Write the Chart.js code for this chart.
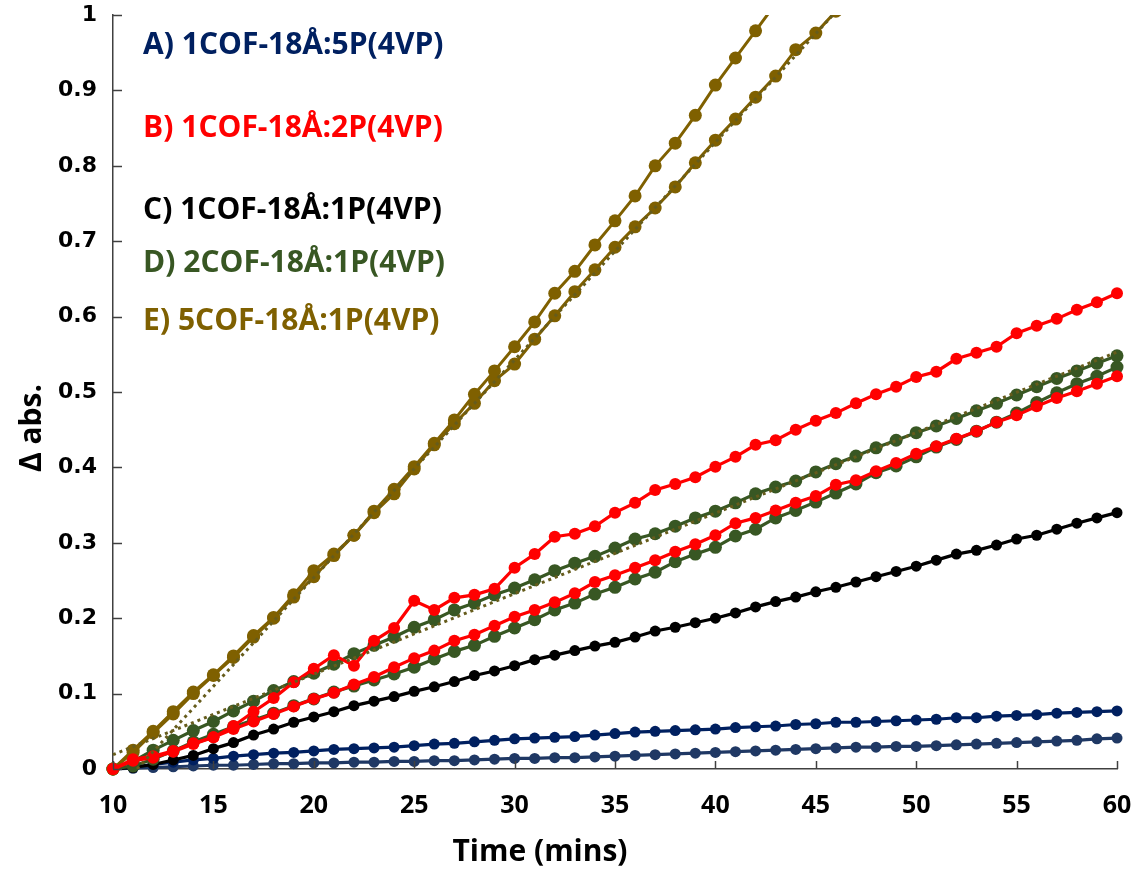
<!DOCTYPE html>
<html>
<head>
<meta charset="utf-8">
<title>Δ abs. vs time</title>
<script src="https://cdn.jsdelivr.net/npm/chart.js@4.4.1/dist/chart.umd.min.js"></script>
<style>
  html, body { margin: 0; padding: 0; background: #fff; }
  #wrap { width: 1140px; height: 875px; }
</style>
</head>
<body>
<div id="wrap"><canvas id="chart" width="1140" height="875"></canvas></div>
<script>
  // time axis (minutes), one reading per minute
  var minutes = [10, 11, 12, 13, 14, 15, 16, 17, 18, 19, 20, 21, 22, 23, 24, 25, 26, 27, 28, 29, 30,
    31, 32, 33, 34, 35, 36, 37, 38, 39, 40, 41, 42, 43, 44, 45, 46, 47, 48, 49, 50,
    51, 52, 53, 54, 55, 56, 57, 58, 59, 60];

  // A) 1COF-18Å:5P(4VP)
  var seriesA1 = [0, 0.003, 0.006, 0.009, 0.012, 0.014, 0.017, 0.019, 0.021, 0.022, 0.024, 0.026, 0.027, 0.028, 0.029, 0.031,
    0.033, 0.034, 0.036, 0.038, 0.040, 0.041, 0.042, 0.043, 0.045, 0.047, 0.049, 0.050, 0.051, 0.052, 0.053,
    0.055, 0.056, 0.057, 0.059, 0.060, 0.062, 0.062, 0.063, 0.064, 0.065, 0.066, 0.068, 0.068, 0.070, 0.071,
    0.072, 0.074, 0.075, 0.076, 0.077];
  var seriesA2 = [0, 0.001, 0.002, 0.003, 0.004, 0.005, 0.005, 0.006, 0.007, 0.007, 0.008, 0.008, 0.009, 0.009, 0.010, 0.010,
    0.011, 0.011, 0.012, 0.013, 0.014, 0.014, 0.015, 0.015, 0.016, 0.017, 0.018, 0.019, 0.020, 0.021, 0.022,
    0.023, 0.024, 0.025, 0.026, 0.027, 0.028, 0.029, 0.029, 0.030, 0.030, 0.031, 0.032, 0.033, 0.034, 0.035,
    0.036, 0.037, 0.038, 0.040, 0.041];

  // B) 1COF-18Å:2P(4VP)
  var seriesB1 = [0, 0.013, 0.017, 0.024, 0.034, 0.042, 0.057, 0.076, 0.094, 0.115, 0.133, 0.151, 0.137, 0.170, 0.187, 0.223,
    0.211, 0.227, 0.231, 0.239, 0.267, 0.285, 0.308, 0.312, 0.322, 0.340, 0.353, 0.370, 0.378, 0.387, 0.401,
    0.414, 0.430, 0.436, 0.450, 0.462, 0.472, 0.485, 0.497, 0.507, 0.520, 0.527, 0.544, 0.552, 0.560, 0.578,
    0.588, 0.597, 0.609, 0.619, 0.631];
  var seriesB2 = [0, 0.011, 0.015, 0.023, 0.033, 0.042, 0.053, 0.063, 0.073, 0.083, 0.093, 0.101, 0.112, 0.122, 0.135, 0.147,
    0.157, 0.170, 0.178, 0.190, 0.202, 0.211, 0.221, 0.233, 0.248, 0.257, 0.267, 0.277, 0.288, 0.298, 0.310,
    0.326, 0.333, 0.343, 0.353, 0.362, 0.377, 0.383, 0.395, 0.406, 0.418, 0.428, 0.438, 0.448, 0.460, 0.469,
    0.481, 0.492, 0.501, 0.511, 0.521];

  // C) 1COF-18Å:1P(4VP)
  var seriesC = [0, 0.002, 0.006, 0.012, 0.018, 0.027, 0.035, 0.045, 0.053, 0.062, 0.069, 0.076, 0.084, 0.090, 0.096, 0.103,
    0.109, 0.116, 0.124, 0.130, 0.137, 0.145, 0.151, 0.157, 0.163, 0.168, 0.175, 0.183, 0.188, 0.194, 0.200,
    0.207, 0.215, 0.222, 0.228, 0.235, 0.241, 0.248, 0.255, 0.262, 0.269, 0.277, 0.285, 0.290, 0.297, 0.305,
    0.310, 0.318, 0.326, 0.333, 0.340];

  // D) 2COF-18Å:1P(4VP)
  var seriesD1 = [0, 0.010, 0.025, 0.038, 0.051, 0.063, 0.077, 0.090, 0.104, 0.116, 0.127, 0.139, 0.153, 0.164, 0.175, 0.188,
    0.198, 0.211, 0.220, 0.231, 0.240, 0.251, 0.263, 0.273, 0.282, 0.293, 0.305, 0.312, 0.322, 0.333, 0.342,
    0.353, 0.365, 0.374, 0.382, 0.394, 0.405, 0.415, 0.426, 0.436, 0.446, 0.455, 0.465, 0.475, 0.485, 0.496,
    0.507, 0.518, 0.528, 0.538, 0.548];
  var seriesD2 = [0, 0.004, 0.013, 0.024, 0.036, 0.046, 0.056, 0.065, 0.074, 0.084, 0.093, 0.102, 0.110, 0.118, 0.126, 0.135,
    0.146, 0.156, 0.164, 0.176, 0.187, 0.198, 0.211, 0.220, 0.232, 0.241, 0.252, 0.261, 0.275, 0.285, 0.294,
    0.309, 0.318, 0.333, 0.343, 0.354, 0.366, 0.378, 0.393, 0.402, 0.414, 0.427, 0.437, 0.448, 0.460, 0.472,
    0.486, 0.499, 0.511, 0.521, 0.533];

  // E) 5COF-18Å:1P(4VP) -- runs off the top of the axis
  var seriesE1 = [0, 0.025, 0.050, 0.076, 0.102, 0.125, 0.150, 0.177, 0.201, 0.231, 0.263, 0.285, 0.310, 0.342, 0.371, 0.401,
    0.432, 0.463, 0.497, 0.528, 0.560, 0.593, 0.631, 0.660, 0.695, 0.727, 0.760, 0.800, 0.830, 0.867, 0.907,
    0.943, 0.979, 1.015];
  var seriesE2 = [0, 0.022, 0.048, 0.073, 0.100, 0.124, 0.148, 0.175, 0.200, 0.228, 0.255, 0.283, 0.310, 0.340, 0.365, 0.398,
    0.430, 0.458, 0.485, 0.515, 0.537, 0.570, 0.601, 0.633, 0.662, 0.692, 0.719, 0.744, 0.772, 0.804, 0.834,
    0.862, 0.891, 0.919, 0.954, 0.976, 1.005];

  // dotted linear trend lines (start / end)
  var trendE_x = [11.2, 46.2];
  var trendE_y = [0, 1.01];
  var trendD_x = [10, 60];
  var trendD_y = [0.019, 0.553];

  var xTicks = [10, 15, 20, 25, 30, 35, 40, 45, 50, 55, 60];
  var yTicks = [0, 0.1, 0.2, 0.3, 0.4, 0.5, 0.6, 0.7, 0.8, 0.9, 1];

  var labels = ['A) 1COF-18Å:5P(4VP)', 'B) 1COF-18Å:2P(4VP)', 'C) 1COF-18Å:1P(4VP)',
    'D) 2COF-18Å:1P(4VP)', 'E) 5COF-18Å:1P(4VP)'];
  var labelY = [0.960, 0.850, 0.741, 0.670, 0.594];
  var labelX = 11.5;

  var NAVY = '#002060', NAVY2 = '#1F3864', RED = '#FF0000', BLACK = '#000000',
      GREEN = '#385723', OLIVE = '#7F6000', TREND = '#665C1C';
  var labelColors = [NAVY, RED, BLACK, GREEN, OLIVE];

  function pairs(xs, ys) {
    var out = [];
    for (var i = 0; i < ys.length; i++) out.push({ x: xs[i], y: ys[i] });
    return out;
  }

  function series(values, color, radius, width) {
    return {
      data: pairs(minutes, values),
      borderColor: color,
      backgroundColor: color,
      borderWidth: width,
      pointRadius: radius,
      pointBorderWidth: 0,
      pointHoverRadius: radius,
      tension: 0,
      clip: { left: 10, right: 10, top: 0, bottom: 10 }
    };
  }

  function trend(xs, ys) {
    return {
      data: pairs(xs, ys),
      borderColor: TREND,
      borderWidth: 3,
      borderDash: [3, 4],
      pointRadius: 0,
      tension: 0,
      clip: { left: 10, right: 10, top: 0, bottom: 0 }
    };
  }

  var FONT_NARROW = '"Liberation Sans Narrow", "Open Sans", sans-serif';

  // inward tick marks, text labels and axis titles
  var overlay = {
    id: 'overlay',
    afterDraw: function (chart) {
      var ctx = chart.ctx;
      var xs = chart.scales.x, ys = chart.scales.y;
      var area = chart.chartArea;
      ctx.save();
      ctx.strokeStyle = '#404040';
      ctx.lineWidth = 1.5;
      xTicks.forEach(function (v) {
        var px = Math.round(xs.getPixelForValue(v)) + 0.5;
        ctx.beginPath();
        ctx.moveTo(px, area.bottom);
        ctx.lineTo(px, area.bottom - 8);
        ctx.stroke();
      });
      yTicks.forEach(function (v) {
        var py = Math.round(ys.getPixelForValue(v)) + 0.5;
        ctx.beginPath();
        ctx.moveTo(area.left, py);
        ctx.lineTo(area.left + 9, py);
        ctx.stroke();
      });

      ctx.textBaseline = 'middle';
      ctx.textAlign = 'left';
      ctx.font = 'bold 30px "Open Sans", sans-serif';
      labels.forEach(function (t, i) {
        ctx.fillStyle = labelColors[i];
        ctx.fillText(t, xs.getPixelForValue(labelX), ys.getPixelForValue(labelY[i]));
      });

      ctx.fillStyle = '#000';
      ctx.textAlign = 'center';
      ctx.font = 'bold 30px ' + FONT_NARROW;
      ctx.fillText('Time (mins)', 540, 852);
      ctx.translate(32, 428);
      ctx.rotate(-Math.PI / 2);
      ctx.fillText('Δ abs.', 0, 0);
      ctx.restore();
    }
  };

  var datasets = [
    trend(trendD_x, trendD_y),
    trend(trendE_x, trendE_y),
    series(seriesB1, RED, 6, 3.2),
    series(seriesB2, RED, 6, 3.2),
    series(seriesE1, OLIVE, 6.5, 3),
    series(seriesE2, OLIVE, 6.5, 3),
    series(seriesD1, GREEN, 6.5, 3.2),
    series(seriesD2, GREEN, 6.5, 3.2),
    series(seriesC, BLACK, 5.5, 3.2),
    series(seriesA1, NAVY, 5.5, 3.2),
    series(seriesA2, NAVY2, 5.5, 3.2)
  ];

  new Chart(document.getElementById('chart'), {
    type: 'line',
    data: { datasets: datasets },
    options: {
      responsive: false,
      animation: false,
      events: [],
      layout: { padding: { left: 0, right: 23, top: 15, bottom: 0 } },
      plugins: { legend: { display: false }, tooltip: { enabled: false } },
      scales: {
        x: {
          type: 'linear',
          min: 10,
          max: 60,
          afterBuildTicks: function (s) { s.ticks = xTicks.map(function (v) { return { value: v }; }); },
          afterFit: function (s) { s.height = 106; s.paddingLeft = 0; s.paddingRight = 0; },
          grid: { display: false, drawTicks: false },
          border: { display: true, color: '#404040', width: 1.5 },
          ticks: {
            color: '#000',
            padding: 22,
            maxRotation: 0,
            font: { family: FONT_NARROW, size: 25, weight: 'bold' }
          }
        },
        y: {
          type: 'linear',
          min: 0,
          max: 1,
          afterBuildTicks: function (s) { s.ticks = yTicks.map(function (v) { return { value: v }; }); },
          afterFit: function (s) { s.width = 113; s.paddingTop = 0; s.paddingBottom = 0; },
          grid: { display: false, drawTicks: false },
          border: { display: true, color: '#404040', width: 1.5 },
          ticks: {
            color: '#000',
            padding: 16,
            callback: function (v) { return String(v); },
            font: { family: '"DejaVu Sans", sans-serif', size: 22, weight: 'bold' }
          }
        }
      }
    },
    plugins: [overlay]
  });
</script>
</body>
</html>
